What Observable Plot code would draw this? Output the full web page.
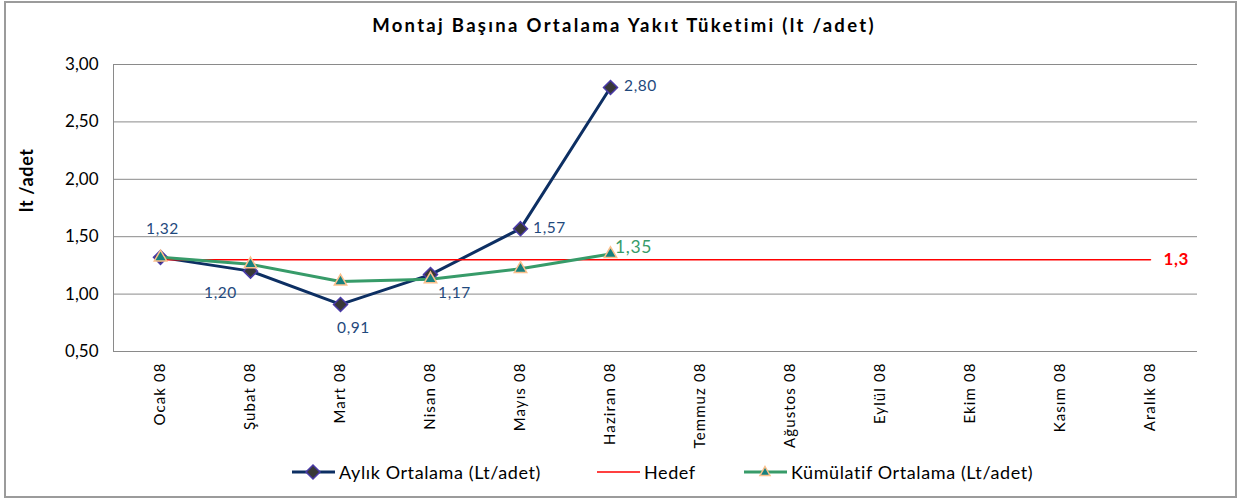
<!DOCTYPE html>
<html>
<head>
<meta charset="utf-8">
<script src="https://cdn.jsdelivr.net/npm/d3@7"></script>
<script src="https://cdn.jsdelivr.net/npm/@observablehq/plot@0.6"></script>
<style>
  html, body { margin: 0; padding: 0; background: #fff; }
  #wrap { position: relative; width: 1239px; height: 499px; font-family: Lato, "Open Sans", sans-serif; overflow: hidden; }
  #border { position: absolute; left: 4px; top: 1px; width: 1229px; height: 493px; border: 2px solid #9b9b9b; pointer-events: none; }
  #title { position: absolute; left: 0; top: 14px; width: 1248px; text-align: center; font-weight: 700; font-size: 18.5px; letter-spacing: 2.3px; color: #000; }
  #chart { position: absolute; left: 0; top: 0; }
  .leg { position: absolute; top: 462px; height: 20px; display: flex; align-items: center; font-size: 18px; letter-spacing: 0.6px; color: #000; white-space: nowrap; }
  .leg svg { display: block; }
</style>
</head>
<body>
<div id="wrap">
  <div id="chart"></div>
  <div id="title">Montaj Başına Ortalama Yakıt Tüketimi (lt /adet)</div>
  <div id="legend"></div>
  <div id="border"></div>
</div>
<script>
// ---- data ----
const months = ["Ocak 08", "Şubat 08", "Mart 08", "Nisan 08", "Mayıs 08", "Haziran 08",
                "Temmuz 08", "Ağustos 08", "Eylül 08", "Ekim 08", "Kasım 08", "Aralık 08"];
const aylik = [1.32, 1.20, 0.91, 1.17, 1.57, 2.80];
const kumulatif = [1.32, 1.26, 1.11, 1.13, 1.22, 1.35];
const hedef = [1.3, 1.3, 1.3, 1.3, 1.3, 1.3, 1.3, 1.3, 1.3, 1.3, 1.3, 1.3];
const yTicks = [0.5, 1.0, 1.5, 2.0, 2.5, 3.0];
const seriesNames = ["Aylık Ortalama (Lt/adet)", "Hedef", "Kümülatif Ortalama (Lt/adet)"];
const yLabel = "lt /adet";

// ---- styles ----
const C = {
  aylik: "#0d2f63", diamondFill: "#383838", diamondStroke: "#4a3aa8",
  kum: "#379b69", triFill: "#17807f", triStroke: "#fbc08c",
  hedef: "#ff0000", lblBlue: "#1f497d", grid: "#8a8a8a"
};

const aylikRows = aylik.map((v, i) => ({month: months[i], value: v}));
const kumRows = kumulatif.map((v, i) => ({month: months[i], value: v}));
const hedefRows = hedef.map((v, i) => ({month: months[i], value: v}));
const fmt2 = v => v.toFixed(2).replace(".", ",");
const fmt1 = v => String(v).replace(".", ",");

const blueLabel = (i, dx, dy) => Plot.text([aylikRows[i]], {
  x: "month", y: "value", text: d => fmt2(d.value), dx, dy,
  fill: C.lblBlue, fontSize: 15.5
});

const chart = Plot.plot({
  width: 1239,
  height: 499,
  marginTop: 64,
  marginBottom: 148,
  marginLeft: 113,
  marginRight: 42,
  style: {fontFamily: "Lato, 'Open Sans', sans-serif", color: "#000", background: "transparent", overflow: "visible"},
  x: {type: "point", domain: months, padding: 0.5},
  y: {domain: [0.5, 3], ticks: yTicks},
  marks: [
    Plot.gridY(yTicks, {stroke: C.grid, strokeOpacity: 1, strokeWidth: 1}),
    Plot.frame({anchor: "left", stroke: C.grid, strokeWidth: 1}),
    Plot.axisY(yTicks, {tickSize: 0, tickPadding: 15, fontSize: 17, label: null, tickFormat: fmt2}),
    Plot.axisX({tickSize: 0, tickPadding: 11, tickRotate: -90, fontSize: 15, label: null}),
    Plot.text([yLabel], {frameAnchor: "left", text: d => d, rotate: -90, dx: -86, dy: 4, fontSize: 18, fontWeight: "bold", fill: "#000"}),
    // Aylık
    Plot.line(aylikRows, {x: "month", y: "value", stroke: C.aylik, strokeWidth: 3}),
    Plot.dot(aylikRows, {x: "month", y: "value", symbol: "diamond2", r: 6.3, fill: C.diamondFill, stroke: C.diamondStroke, strokeWidth: 1.5}),
    // Hedef
    Plot.line(hedefRows, {x: "month", y: "value", stroke: C.hedef, strokeWidth: 1.5}),
    Plot.text([hedefRows[hedefRows.length - 1]], {x: "month", y: "value", text: d => fmt1(d.value), textAnchor: "start", dx: 13, fill: C.hedef, fontSize: 17, fontWeight: "bold"}),
    // Kümülatif
    Plot.line(kumRows, {x: "month", y: "value", stroke: C.kum, strokeWidth: 3}),
    Plot.dot(kumRows, {x: "month", y: "value", symbol: "triangle", r: 4.6, fill: C.triFill, stroke: C.triStroke, strokeWidth: 1.5}),
    // labels
    blueLabel(0, 2, -28),
    blueLabel(1, -30, 22),
    blueLabel(2, 13, 24),
    blueLabel(3, 24, 18),
    blueLabel(4, 29, -1),
    blueLabel(5, 30, -1),
    Plot.text([kumRows[kumRows.length - 1]], {x: "month", y: "value", text: d => fmt2(d.value), dx: 23, dy: -7, fill: C.kum, fontSize: 17.5})
  ]
});
// spaced lettering, as in the original rendering
d3.select(chart).selectAll('g[aria-label="x-axis tick label"] text').style("letter-spacing", "1.1px");
d3.select(chart).selectAll('g[aria-label="text"] text').style("letter-spacing", "0.6px");
document.getElementById("chart").appendChild(chart);

// ---- legend ----
const legend = document.getElementById("legend");
const items = [
  {left: 292, name: seriesNames[0], color: C.aylik, sw: 3, marker: "diamond"},
  {left: 597, name: seriesNames[1], color: C.hedef, sw: 1.5, marker: null},
  {left: 744, name: seriesNames[2], color: C.kum, sw: 3, marker: "triangle"}
];
for (const it of items) {
  const div = document.createElement("div");
  div.className = "leg";
  div.style.left = it.left + "px";
  let m = "";
  if (it.marker === "diamond") {
    m = `<path d="M21,3 L28,10 L21,17 L14,10 Z" fill="${C.diamondFill}" stroke="${C.diamondStroke}" stroke-width="1.5"/>`;
  } else if (it.marker === "triangle") {
    m = `<path d="M21,4.5 L26,13.5 L16,13.5 Z" fill="${C.triFill}" stroke="${C.triStroke}" stroke-width="1.5"/>`;
  }
  div.innerHTML = `<svg width="43" height="20"><line x1="0" x2="43" y1="10" y2="10" stroke="${it.color}" stroke-width="${it.sw}"/>${m}</svg><span style="margin-left:4px">${it.name}</span>`;
  legend.appendChild(div);
}
</script>
</body>
</html>
